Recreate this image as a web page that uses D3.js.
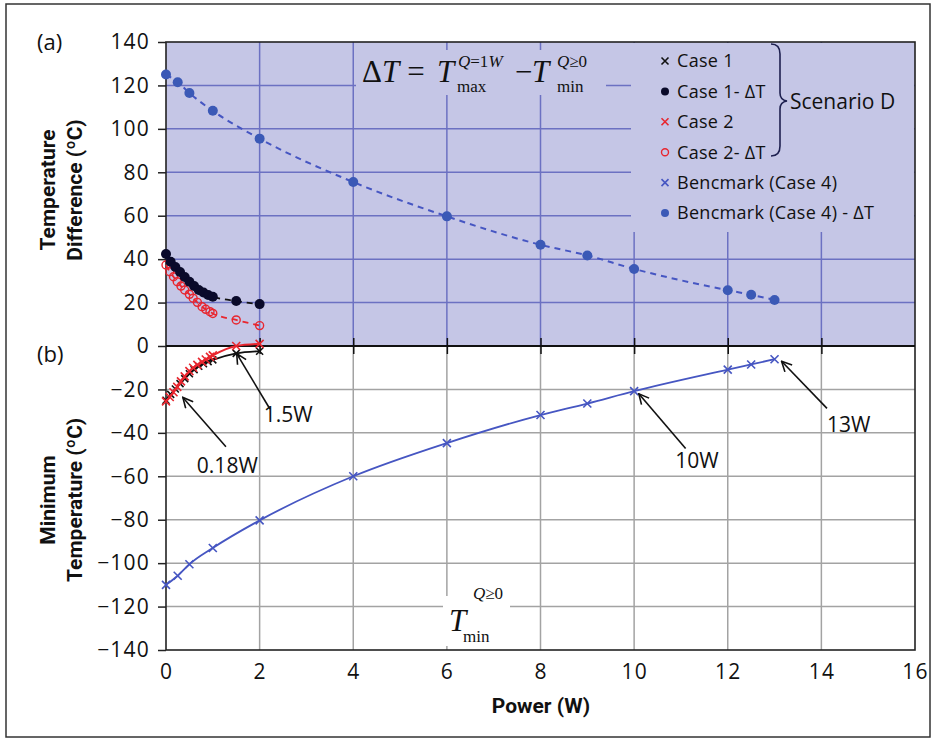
<!DOCTYPE html>
<meta charset="utf-8">
<style>
  body { margin: 0; background: #fff; }
  text { font-family: "Open Sans", sans-serif; fill: #111; }
  .tick text { font-size: 21px; letter-spacing: 1.2px; }
  .ttl { font-family: Roboto, sans-serif; font-weight: bold; font-size: 21px; }
  .eq text { font-family: "Liberation Serif", "DejaVu Serif", serif; }
</style>
<body>
<svg width="937" height="742"></svg>
<script src="https://cdn.jsdelivr.net/npm/d3@7"></script>
<script>
// ---- data ----
var xTicks = [0, 2, 4, 6, 8, 10, 12, 14, 16];
var yTicks = [140, 120, 100, 80, 60, 40, 20, 0, -20, -40, -60, -80, -100, -120, -140];

// benchmark (case 4)
var benchX   = [0, 0.25, 0.5, 1, 2, 4, 6, 8, 9, 10, 12, 12.5, 13];
var benchDT  = [125, 121.5, 116.5, 108.3, 95.5, 75.5, 59.7, 46.6, 41.7, 35.5, 25.7, 23.6, 21.2];
var benchMin = [-110, -105.8, -100.5, -93, -80.3, -60, -44.7, -31.8, -26.5, -20.8, -10.9, -8.5, -6.1];

// scenario D case 1
var case1X   = [0, 0.1, 0.2, 0.3, 0.4, 0.5, 0.6, 0.7, 0.8, 0.9, 1, 1.5, 2];
var case1DT  = [42.4, 38.8, 36.4, 34.1, 31.8, 29.6, 27.6, 25.8, 24.6, 23.5, 22.7, 20.7, 19.3];
var case1Min = [-25, -22.3, -19.8, -17.3, -15, -12.8, -10.9, -9.3, -8.2, -7.2, -6.4, -3.4, -2.4];

// scenario D case 2
var case2X   = [0, 0.08, 0.16, 0.24, 0.32, 0.4, 0.5, 0.58, 0.67, 0.77, 0.85, 0.94, 1, 1.5, 2];
var case2DT  = [37.3, 34.2, 31.9, 29.6, 27.6, 25.8, 23.8, 22, 20.1, 18.1, 16.9, 15.8, 15, 12, 9.4];
var case2Min = [-25.5, -23.5, -21.3, -18.8, -16.3, -14, -11.6, -10, -8.7, -7.3, -6.2, -5, -4.3, 0, 1];

var legendLabels = ["Case 1", "Case 1- \u0394T", "Case 2", "Case 2- \u0394T", "Bencmark (Case 4)", "Bencmark (Case 4) - \u0394T"];
var legendKinds  = ["x", "dot", "x", "ring", "x", "dot"];

// annotations: tip and tail in data units
var notes = [
  {label: "0.18W", tip: [0.36, -23.7], tail: [1.28, -46.4], tx: 1.31, ty: -58.5, anchor: "middle"},
  {label: "1.5W",  tip: [1.51, -3.5],  tail: [2.22, -29],   tx: 2.09, ty: -34.8, anchor: "start"},
  {label: "10W",   tip: [10.1, -22],   tail: [11.1, -47.2], tx: 10.88, ty: -56.2, anchor: "start"},
  {label: "13W",   tip: [13.15, -7],   tail: [14.12, -28.7], tx: 14.12, ty: -39.6, anchor: "start"}
];

var lav = "#c5c6e6", gridA = "#6c71c2", gridB = "#a3a3a3";
var blue = "#3b59b6", blueLine = "#4656c2", red = "#e8262f", black = "#111";

var svg = d3.select("svg");
var x = d3.scaleLinear().domain([0, 16]).range([166, 915]);
var y = d3.scaleLinear().domain([-140, 140]).range([650, 42]);

function zip(xs, ys) { return xs.map(function(v, i) { return [v, ys[i]]; }); }
function minusFmt(d) { return d < 0 ? "\u2212" + Math.abs(d) : d; }

var defs = svg.append("defs");
defs.append("marker").attr("id", "arr")
    .attr("viewBox", "0 0 12 12").attr("refX", 11).attr("refY", 6)
    .attr("markerWidth", 12).attr("markerHeight", 12)
    .attr("markerUnits", "userSpaceOnUse").attr("orient", "auto")
  .append("path").attr("d", "M1,1L11,6L1,11")
    .attr("fill", "none").attr("stroke", black).attr("stroke-width", 1.6);

// outer border
svg.append("rect").attr("x", 6).attr("y", 4).attr("width", 924).attr("height", 733)
    .attr("fill", "none").attr("stroke", "#333").attr("stroke-width", 1.5);

// panel (a) background
svg.append("rect").attr("x", x(0)).attr("y", y(140))
    .attr("width", x(16) - x(0)).attr("height", y(0) - y(140)).attr("fill", lav);

// grid
var grid = svg.append("g");
grid.selectAll(".ga").data(yTicks.filter(function(d) { return d > 0 && d < 140; }))
  .enter().append("line")
    .attr("x1", x(0)).attr("x2", x(16)).attr("y1", y).attr("y2", y)
    .attr("stroke", gridA).attr("stroke-width", 1.5);
grid.selectAll(".gb").data(yTicks.filter(function(d) { return d < 0 && d > -140; }))
  .enter().append("line")
    .attr("x1", x(0)).attr("x2", x(16)).attr("y1", y).attr("y2", y)
    .attr("stroke", gridB).attr("stroke-width", 1.5);
grid.selectAll(".va").data(xTicks.slice(1, -1))
  .enter().append("line")
    .attr("x1", x).attr("x2", x).attr("y1", y(140)).attr("y2", y(0))
    .attr("stroke", gridA).attr("stroke-width", 1.5);
grid.selectAll(".vb").data(xTicks.slice(1, -1))
  .enter().append("line")
    .attr("x1", x).attr("x2", x).attr("y1", y(0)).attr("y2", y(-140))
    .attr("stroke", gridB).attr("stroke-width", 1.5);

// boxes behind equation, legend and T_min label
svg.append("rect").attr("x", 356).attr("y", 50).attr("width", 250).attr("height", 45).attr("fill", lav);
svg.append("rect").attr("x", 631).attr("y", 43).attr("width", 283).attr("height", 189).attr("fill", lav);
svg.append("rect").attr("x", 443).attr("y", 596).attr("width", 67).attr("height", 50).attr("fill", "#fff");

// frame + zero line
svg.append("rect").attr("x", x(0)).attr("y", y(140))
    .attr("width", x(16) - x(0)).attr("height", y(-140) - y(140))
    .attr("fill", "none").attr("stroke", "#222").attr("stroke-width", 1.6);
svg.append("line").attr("x1", x(0)).attr("x2", x(16)).attr("y1", y(0)).attr("y2", y(0))
    .attr("stroke", "#111").attr("stroke-width", 2);

// axes
var ya = svg.append("g").attr("transform", "translate(" + x(0) + ",0)")
    .call(d3.axisLeft(y).tickValues(yTicks).tickSize(8).tickPadding(8).tickFormat(minusFmt));
ya.select(".domain").remove();
ya.selectAll(".tick line").attr("stroke", "#222").attr("stroke-width", 1.5);

var xa = svg.append("g").attr("transform", "translate(0," + y(-140) + ")")
    .call(d3.axisBottom(x).tickValues(xTicks).tickSize(0).tickPadding(14));
xa.select(".domain").remove();

svg.append("g").attr("transform", "translate(0," + y(0) + ")")
    .call(d3.axisBottom(x).tickValues(xTicks.slice(1, -1)).tickSize(8).tickFormat(""))
  .call(function(g) { g.select(".domain").remove(); g.selectAll("line").attr("stroke", "#111").attr("stroke-width", 1.5); });
svg.append("g").attr("transform", "translate(0," + y(0) + ")")
    .call(d3.axisTop(x).tickValues(xTicks.slice(1, -1)).tickSize(8).tickFormat(""))
  .call(function(g) { g.select(".domain").remove(); g.selectAll("line").attr("stroke", "#111").attr("stroke-width", 1.5); });

svg.selectAll(".tick text").attr("fill", "#111");

// titles
svg.append("text").attr("class", "ttl").attr("text-anchor", "middle")
    .attr("transform", "translate(55,190) rotate(-90)").text("Temperature");
svg.append("text").attr("class", "ttl").attr("text-anchor", "middle")
    .attr("transform", "translate(82,190) rotate(-90)").text("Difference (\u00baC)");
svg.append("text").attr("class", "ttl").attr("text-anchor", "middle")
    .attr("transform", "translate(55,500) rotate(-90)").text("Minimum");
svg.append("text").attr("class", "ttl").attr("text-anchor", "middle")
    .attr("transform", "translate(82,500) rotate(-90)").text("Temperature (\u00baC)");
svg.append("text").attr("class", "ttl").attr("text-anchor", "middle")
    .attr("x", 541).attr("y", 713).text("Power (W)");
svg.append("text").attr("x", 37).attr("y", 50).style("font-size", "22px").text("(a)");
svg.append("text").attr("x", 37).attr("y", 362).style("font-size", "22px").text("(b)");

// ---- series ----
var lineSmooth = d3.line().x(function(d) { return x(d[0]); }).y(function(d) { return y(d[1]); })
    .curve(d3.curveMonotoneX);
var plot = svg.append("g");

function xMark(g, pts, color, s) {
  g.selectAll(null).data(pts).enter().append("path")
    .attr("transform", function(d) { return "translate(" + x(d[0]) + "," + y(d[1]) + ")"; })
    .attr("d", "M" + -s + "," + -s + "L" + s + "," + s + "M" + -s + "," + s + "L" + s + "," + -s)
    .attr("stroke", color).attr("stroke-width", 1.6).attr("fill", "none");
}

// benchmark
plot.append("path").datum(zip(benchX, benchDT)).attr("d", lineSmooth)
    .attr("fill", "none").attr("stroke", blueLine).attr("stroke-width", 2).attr("stroke-dasharray", "6,5");
plot.selectAll(null).data(zip(benchX, benchDT)).enter().append("circle")
    .attr("cx", function(d) { return x(d[0]); }).attr("cy", function(d) { return y(d[1]); })
    .attr("r", 5).attr("fill", blue);
plot.append("path").datum(zip(benchX, benchMin)).attr("d", lineSmooth)
    .attr("fill", "none").attr("stroke", blueLine).attr("stroke-width", 1.8);
xMark(plot, zip(benchX, benchMin), blueLine, 4);

// case 2 delta T (under case 1)
plot.append("path").datum(zip(case2X, case2DT)).attr("d", lineSmooth)
    .attr("fill", "none").attr("stroke", red).attr("stroke-width", 1.8).attr("stroke-dasharray", "6,5");
plot.selectAll(null).data(zip(case2X, case2DT)).enter().append("circle")
    .attr("cx", function(d) { return x(d[0]); }).attr("cy", function(d) { return y(d[1]); })
    .attr("r", 4).attr("fill", "none").attr("stroke", red).attr("stroke-width", 1.4);

// case 1 delta T
plot.append("path").datum(zip(case1X, case1DT)).attr("d", lineSmooth)
    .attr("fill", "none").attr("stroke", black).attr("stroke-width", 1.8).attr("stroke-dasharray", "6,5");
plot.selectAll(null).data(zip(case1X, case1DT)).enter().append("circle")
    .attr("cx", function(d) { return x(d[0]); }).attr("cy", function(d) { return y(d[1]); })
    .attr("r", 5).attr("fill", "#0a0a2a");

// minimum temperature, case 1 then case 2 on top
plot.append("path").datum(zip(case1X, case1Min)).attr("d", lineSmooth)
    .attr("fill", "none").attr("stroke", black).attr("stroke-width", 1.8);
xMark(plot, zip(case1X, case1Min), black, 3.5);
plot.append("path").datum(zip(case2X, case2Min)).attr("d", lineSmooth)
    .attr("fill", "none").attr("stroke", red).attr("stroke-width", 2);
xMark(plot, zip(case2X, case2Min), red, 4);

// ---- annotations ----
var ann = svg.append("g");
notes.forEach(function(n) {
  ann.append("line")
    .attr("x1", x(n.tail[0])).attr("y1", y(n.tail[1]))
    .attr("x2", x(n.tip[0])).attr("y2", y(n.tip[1]))
    .attr("stroke", black).attr("stroke-width", 1.6).attr("marker-end", "url(#arr)");
  ann.append("text").attr("x", x(n.tx)).attr("y", y(n.ty)).attr("text-anchor", n.anchor)
    .style("font-size", "21px").text(n.label);
});

// ---- equation ----
var eq = svg.append("g").attr("class", "eq");
var e1 = eq.append("text").attr("x", 362).attr("y", 82).style("font-size", "31px");
e1.append("tspan").text("\u0394");
e1.append("tspan").style("font-style", "italic").text("T");
e1.append("tspan").attr("dx", 8).text("=");
eq.append("text").attr("x", 437).attr("y", 82).style("font-size", "31px").style("font-style", "italic").text("T");
var s1 = eq.append("text").attr("x", 458).attr("y", 67).style("font-size", "17px");
s1.append("tspan").style("font-style", "italic").text("Q");
s1.append("tspan").text("=1");
s1.append("tspan").style("font-style", "italic").text("W");
eq.append("text").attr("x", 457).attr("y", 92).style("font-size", "17px").text("max");
eq.append("text").attr("x", 515).attr("y", 82).style("font-size", "31px").text("\u2212");
eq.append("text").attr("x", 532).attr("y", 82).style("font-size", "31px").style("font-style", "italic").text("T");
var s2 = eq.append("text").attr("x", 557).attr("y", 67).style("font-size", "17px");
s2.append("tspan").style("font-style", "italic").text("Q");
s2.append("tspan").text("\u22650");
eq.append("text").attr("x", 557).attr("y", 92).style("font-size", "17px").text("min");

var eq2 = svg.append("g").attr("class", "eq");
eq2.append("text").attr("x", 449).attr("y", 631).style("font-size", "31px").style("font-style", "italic").text("T");
var s3 = eq2.append("text").attr("x", 473).attr("y", 599).style("font-size", "17px");
s3.append("tspan").style("font-style", "italic").text("Q");
s3.append("tspan").text("\u22650");
eq2.append("text").attr("x", 463).attr("y", 642).style("font-size", "17px").text("min");

// ---- legend ----
var legColors = [black, "#0a0a2a", red, red, blueLine, blue];
var leg = svg.append("g").attr("transform", "translate(665,61)");
var li = leg.selectAll(".li").data(legendLabels).enter().append("g")
    .attr("transform", function(d, i) { return "translate(0," + i * 30.4 + ")"; });
li.each(function(d, i) {
  var g = d3.select(this), k = legendKinds[i], c = legColors[i];
  if (k == "x") {
    g.append("path").attr("d", "M-3.5,-3.5L3.5,3.5M-3.5,3.5L3.5,-3.5").attr("stroke", c).attr("stroke-width", 1.6);
  } else if (k == "dot") {
    g.append("circle").attr("r", 4).attr("fill", c);
  } else {
    g.append("circle").attr("r", 3.5).attr("fill", "none").attr("stroke", c).attr("stroke-width", 1.4);
  }
  g.append("text").attr("x", 12).attr("dy", "0.35em").style("font-size", "18px")
    .style("letter-spacing", "0.3px").text(d);
});

// brace + scenario label
svg.append("path")
    .attr("d", "M771,44 Q780,44 780,54 L780,93 Q780,100 787,101 Q780,102 780,109 L780,146 Q780,156 771,156")
    .attr("fill", "none").attr("stroke", "#1e2050").attr("stroke-width", 1.6);
svg.append("text").attr("x", 790).attr("y", 109).style("font-size", "21px").text("Scenario D");
</script>
</body>
